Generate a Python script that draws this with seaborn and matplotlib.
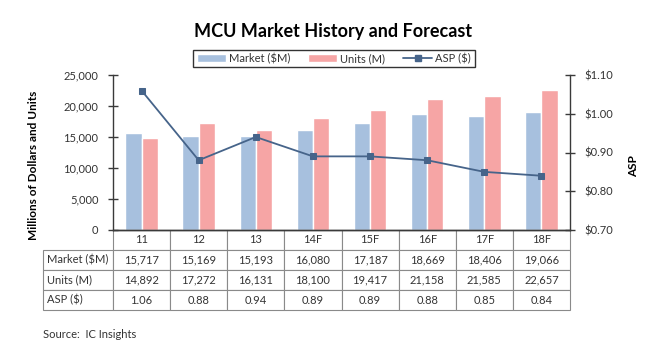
import numpy as np
import pandas as pd
import matplotlib
matplotlib.use("Agg")
import matplotlib.pyplot as plt
import seaborn as sns
from matplotlib.patches import Patch
from matplotlib.lines import Line2D

# data
years = ['11', '12', '13', '14F', '15F', '16F', '17F', '18F']
market = [15717, 15169, 15193, 16080, 17187, 18669, 18406, 19066]
units = [14892, 17272, 16131, 18100, 19417, 21158, 21585, 22657]
asp = [1.06, 0.88, 0.94, 0.89, 0.89, 0.88, 0.85, 0.84]

blue = '#a7c0de'
pink = '#f6a5a5'
line_c = '#46648a'
txt = '#333333'
axis_c = '#3a3a3a'

sns.set_theme(style='white')
plt.rcParams['font.family'] = ['Lato', 'DejaVu Sans']

df = pd.DataFrame({
    'year': years * 2,
    'value': market + units,
    'series': ['Market ($M)'] * len(years) + ['Units (M)'] * len(years),
})

W, H = 660, 354
fig = plt.figure(figsize=(W / 100, H / 100), dpi=100)
ax = fig.add_axes([113 / W, 1 - 230 / H, 457 / W, 155 / H])

sns.barplot(data=df, x='year', y='value', hue='series', palette=[blue, pink],
            width=0.57, saturation=1, legend=False, ax=ax)
ax.set_ylim(0, 25000)
ax.set_yticks(np.arange(0, 25001, 5000))
ax.set_yticklabels([f'{v:,}' for v in range(0, 25001, 5000)])
ax.set_xticks([])
ax.set_xlim(-0.5, len(years) - 0.5)
ax.set_xlabel('')
ax.set_ylabel('Millions of Dollars and Units', fontsize=8.5, fontweight='bold', color='black')
ax.yaxis.set_label_coords(-0.162, 0.42)
ax.tick_params(axis='y', direction='inout', length=7, width=1, color=axis_c,
               labelsize=8, labelcolor=txt, pad=7, left=True)

# ASP line on the right axis
ax2 = ax.twinx()
sns.lineplot(x=np.arange(len(years)), y=asp, ax=ax2, color=line_c, marker='s',
             markersize=5, linewidth=1.3, markeredgecolor=line_c)
ax2.set_ylim(0.70, 1.10)
ax2.set_yticks([0.70, 0.80, 0.90, 1.00, 1.10])
ax2.set_yticklabels([f'${v:.2f}' for v in [0.70, 0.80, 0.90, 1.00, 1.10]])
ax2.set_xlim(-0.5, len(years) - 0.5)
ax2.set_ylabel('ASP', fontsize=8.5, fontweight='bold', color='black')
ax2.yaxis.set_label_coords(1.127, 0.41)
ax2.tick_params(axis='y', direction='inout', length=7, width=1, color=axis_c,
                labelsize=8, labelcolor=txt, pad=7, right=True)

for a in (ax, ax2):
    a.spines['top'].set_visible(False)
    for s in ('left', 'right', 'bottom'):
        a.spines[s].set_color(axis_c)
        a.spines[s].set_linewidth(1)
ax.spines['right'].set_visible(False)
ax2.spines['left'].set_visible(False)

# data table under the plot
rows = [[''] + years,
        ['Market ($M)'] + [f'{v:,}' for v in market],
        ['Units (M)'] + [f'{v:,}' for v in units],
        ['ASP ($)'] + [f'{v:.2f}' for v in asp]]
col_w = [70] + [57.1] * len(years)
tbl = ax.table(cellText=rows, cellLoc='center', colWidths=col_w,
               bbox=[-70 / 457, -80 / 155, 527 / 457, 80 / 155])
tbl.auto_set_font_size(False)
tbl.set_fontsize(8)
for (r, c), cell in tbl.get_celld().items():
    cell.set_edgecolor('#8a8a8a')
    cell.set_linewidth(0.8)
    cell.get_text().set_color(txt)
    if c == 0:
        cell._loc = 'left'
        cell.PAD = 0.05
        cell.get_text().set_ha('left')
tbl[0, 0].visible_edges = 'open'

# title, legend, source
fig.text(333 / W, 1 - 32 / H, 'MCU Market History and Forecast', ha='center',
         va='center', fontsize=13, fontweight='bold', color='black')
handles = [Patch(facecolor=blue), Patch(facecolor=pink),
           Line2D([0], [0], color=line_c, marker='s', markersize=4, linewidth=1.3)]
leg = fig.legend(handles, ['Market ($M)', 'Units (M)', 'ASP ($)'], loc='center',
                 bbox_to_anchor=(334 / W, 1 - 58.5 / H), ncol=3, fontsize=8,
                 frameon=True, fancybox=False, edgecolor='black',
                 handlelength=2.6, handleheight=0.8, columnspacing=1.6,
                 handletextpad=0.3, borderpad=0.3)
leg.get_frame().set_linewidth(1)
for t in leg.get_texts():
    t.set_color(txt)
fig.text(43 / W, 1 - 334 / H, 'Source:  IC Insights', ha='left', va='center',
         fontsize=8, color=txt)

plt.savefig('out.png', dpi=100)
